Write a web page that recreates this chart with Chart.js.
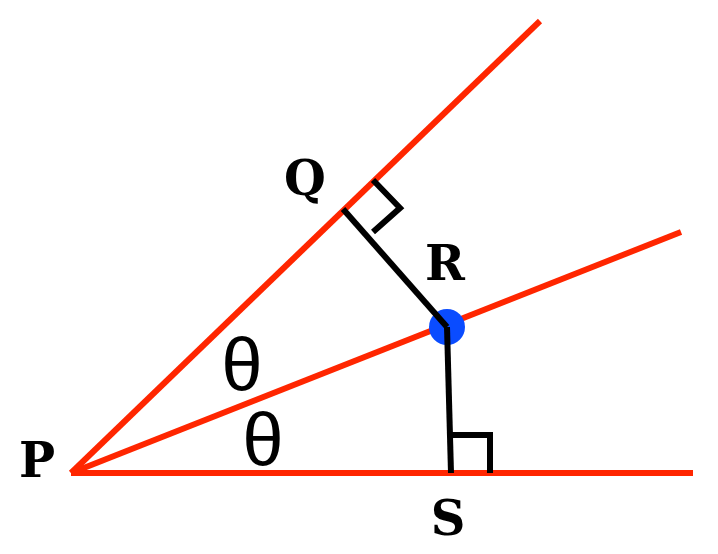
<!DOCTYPE html>
<html>
<head>
<meta charset="utf-8">
<script src="https://cdn.jsdelivr.net/npm/chart.js@4"></script>
<style>
  html, body { margin: 0; padding: 0; background: #fff; }
  #wrap { width: 718px; height: 554px; }
</style>
</head>
<body>
<div id="wrap"><canvas id="myChart" width="718" height="554"></canvas></div>
<script>
// diagram points, x to the right, y up
const P = { x: 71, y: 81 };
const rayEndX = [540, 681, 693];
const rayEndY = [533, 322, 81];

const Q = { x: 343, y: 345 };
const R = { x: 447, y: 227 };
const S = { x: 451, y: 81 };

const markQX = [373, 400, 373];
const markQY = [374, 346, 322];
const markSX = [451, 490, 490];
const markSY = [119, 119, 81];

const labelText = ['P', 'Q', 'R', 'S'];
const labelX = [37, 305, 445, 448];
const labelY = [94, 376, 291, 36];

const angleText = ['θ', 'θ'];
const angleX = [242, 263];
const angleY = [191, 116];

const COLORS = {
    red: 'rgb(255, 38, 0)',
    blue: 'rgb(10, 76, 255)',
    black: 'rgb(0, 0, 0)'
};

function pts(xs, ys) {
    return xs.map((x, i) => ({ x: x, y: ys[i] }));
}

const rays = rayEndX.map((x, i) => ({
    data: [P, { x: x, y: rayEndY[i] }],
    borderColor: COLORS.red,
    borderWidth: 6,
    showLine: true,
    pointRadius: 0,
    order: 3,
}));

const blackLine = (data) => ({
    data: data,
    borderColor: COLORS.black,
    borderWidth: 6,
    borderJoinStyle: 'miter',
    showLine: true,
    pointRadius: 0,
    order: 1,
});

// letters and angle marks, placed through the scales
const textPlugin = {
    id: 'diagramText',
    afterDatasetsDraw(chart) {
        const ctx = chart.ctx;
        const xs = chart.scales.x, ys = chart.scales.y;
        ctx.save();
        ctx.fillStyle = '#000';
        ctx.textAlign = 'center';
        ctx.textBaseline = 'alphabetic';
        ctx.font = 'bold 48px "DejaVu Serif", serif';
        labelText.forEach((t, i) => {
            // centre the cap height on the label point
            ctx.fillText(t, xs.getPixelForValue(labelX[i]), ys.getPixelForValue(labelY[i]) + 17);
        });
        ctx.font = '74px "Liberation Mono", monospace';
        angleText.forEach((t, i) => {
            ctx.fillText(t, xs.getPixelForValue(angleX[i]), ys.getPixelForValue(angleY[i]) + 27);
        });
        ctx.restore();
    }
};

const config = {
    type: 'scatter',
    data: {
        datasets: [
            ...rays,
            {
                data: [R],
                pointRadius: 18,
                pointHoverRadius: 18,
                pointBackgroundColor: COLORS.blue,
                pointBorderWidth: 0,
                order: 2,
            },
            blackLine([Q, R]),
            blackLine([R, S]),
            blackLine(pts(markQX, markQY)),
            blackLine(pts(markSX, markSY)),
        ]
    },
    options: {
        responsive: false,
        animation: false,
        events: [],
        layout: { padding: 0, autoPadding: false },
        plugins: {
            legend: { display: false },
            tooltip: { enabled: false }
        },
        scales: {
            x: { type: 'linear', min: 0, max: 718, display: false },
            y: { type: 'linear', min: 0, max: 554, display: false }
        }
    },
    plugins: [textPlugin]
};

const myChart = new Chart(document.getElementById('myChart'), config);
</script>
</body>
</html>
